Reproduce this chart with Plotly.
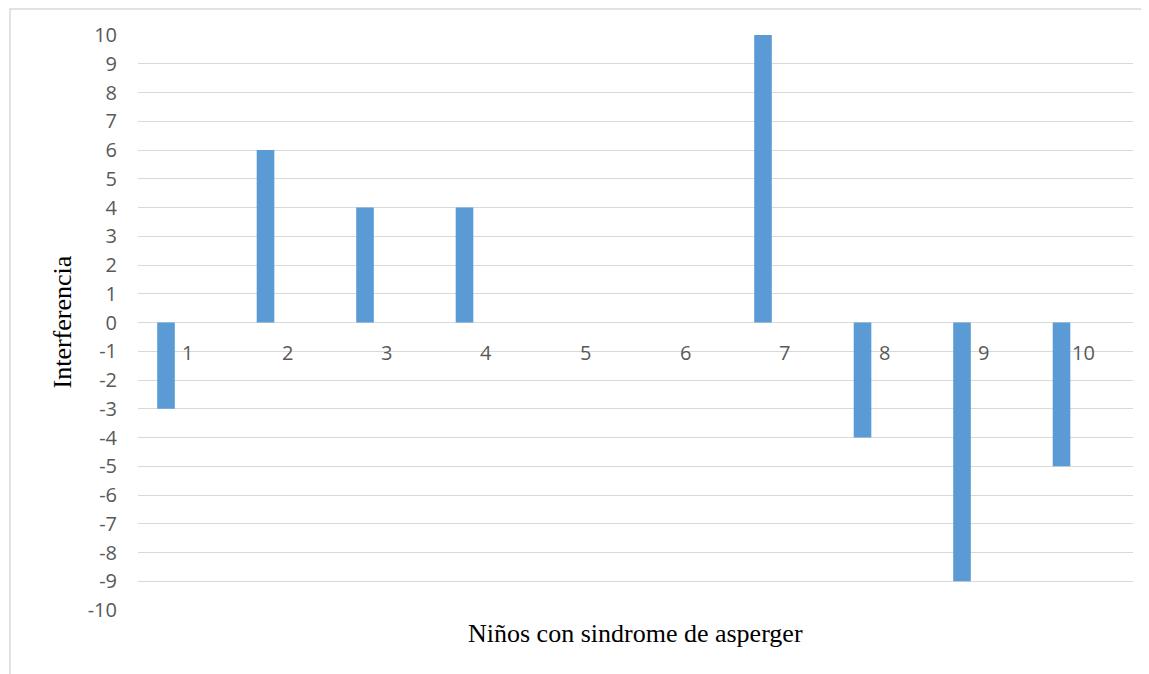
import plotly.graph_objects as go

categories = [1, 2, 3, 4, 5, 6, 7, 8, 9, 10]
interferencia = [-3, 6, 4, 4, 0, 0, 10, -4, -9, -5]
y_ticks = list(range(-10, 11))
y_ticktext = [str(v) for v in y_ticks]  # plain hyphen-minus as in the reference

# page body has an 8px margin; compensate so the plot lands where the reference has it
OFF = 8
W, H = 1149 - OFF, 674 - OFF
L, R, T, B = 138 - OFF, 16, 35 - OFF, 64
pw, ph = W - L - R, H - T - B

grid = "#d9d9d9"
txt = "#595959"
tick_font = dict(family="Open Sans", size=20, color=txt)
title_font = dict(family="Liberation Serif", size=26, color="#000000")

fig = go.Figure()
fig.add_trace(go.Bar(
    x=categories, y=interferencia,
    marker=dict(color="#5B9BD5", line=dict(width=0)),
    width=0.177, offset=-0.307,
    showlegend=False,
))

for c in categories:
    fig.add_annotation(x=c, y=-1, text=str(c), showarrow=False, yshift=-1,
                       xanchor="center", yanchor="middle", font=tick_font)

# axis titles (pixel positions from the reference, converted to paper coords)
fig.add_annotation(xref="paper", yref="paper", x=0.5,
                   y=((T + ph) - (633 - OFF)) / ph,
                   text="Niños con sindrome de asperger", showarrow=False,
                   xanchor="center", yanchor="middle", font=title_font)
fig.add_annotation(xref="paper", yref="paper", x=((62 - OFF) - L) / pw, y=0.5,
                   text="Interferencia", showarrow=False, textangle=-90,
                   xanchor="center", yanchor="middle", font=title_font)

# outer chart border (top and left edges visible)
fig.add_shape(type="rect", xref="paper", yref="paper",
              x0=((10 - OFF) - L) / pw, x1=1.2,
              y0=-0.3, y1=((T + ph) - 1) / ph,
              line=dict(color=grid, width=1.5), fillcolor="rgba(0,0,0,0)", layer="below")

fig.update_layout(
    width=W, height=H,
    margin=dict(l=L, r=R, t=T, b=B),
    plot_bgcolor="white", paper_bgcolor="white",
    xaxis=dict(range=[0.5, 10.5], showgrid=False, showticklabels=False,
               zeroline=False, showline=False, tickvals=categories),
    yaxis=dict(range=[-10, 10], tickvals=y_ticks, ticktext=y_ticktext,
               showgrid=True, gridcolor=grid, gridwidth=1,
               zeroline=True, zerolinecolor=grid, zerolinewidth=1,
               showline=False, ticks="", ticklabelstandoff=20,
               tickfont=tick_font),
)

fig.write_html("out.html")
